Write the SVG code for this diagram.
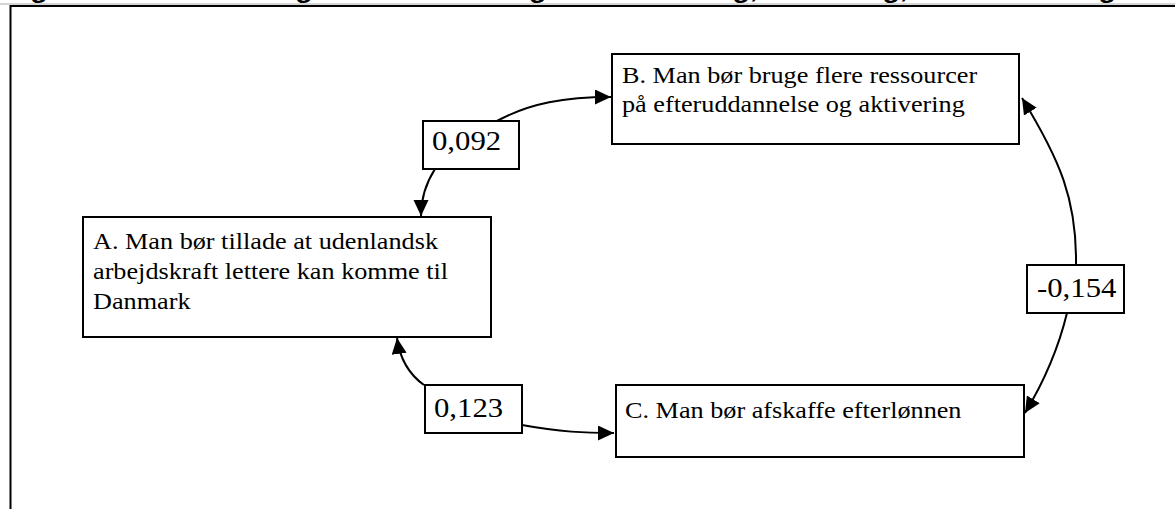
<svg xmlns="http://www.w3.org/2000/svg" width="1175" height="509" viewBox="0 0 1175 509">
<style>
.bg{fill:#ffffff}
.box{fill:#ffffff;stroke:#000;stroke-width:2}
.t{font-family:"Liberation Serif","Times New Roman",serif;font-size:22.6px;fill:#000}
.l{font-family:"Liberation Serif","Times New Roman",serif;font-size:26.5px;fill:#000}
.title{font-family:"Liberation Sans",Arial,sans-serif;font-weight:bold;font-size:24.5px;fill:#000}
.edge{fill:none;stroke:#000;stroke-width:2}
</style>
<defs>
<marker id="arr" markerUnits="userSpaceOnUse" markerWidth="18" markerHeight="16" refX="16" refY="7.5" orient="auto">
<path d="M0,0 L16,7.5 L0,15 Z" fill="#000"/>
</marker>
</defs>
<rect class="bg" x="0" y="0" width="1175" height="509"/>
<g id="title">
<text class="title" transform="translate(5,-2.5) scale(1.16,1)">Figur 3: Sammenhæng mellem holdning til indvandring, aktivering, uddannelse og efterløn</text>
<line x1="0" y1="4" x2="1175" y2="4" stroke="#aaa" stroke-width="1"/>
</g>
<path id="frame" d="M10.5,510 V6 H1176" fill="none" stroke="#000" stroke-width="2"/>
<g id="connectors">
<path class="edge" d="M497,121 C530,103 565,97 611,97" marker-end="url(#arr)"/>
<path class="edge" d="M435,169 C426,183 421,197 421,216" marker-end="url(#arr)"/>
<path class="edge" d="M424,385 C410,375 400,360 397,338" marker-end="url(#arr)"/>
<path class="edge" d="M522,425 C560,432 585,433 614,433" marker-end="url(#arr)"/>
<path class="edge" d="M1076,265 C1077,200 1060,160 1022,98" marker-end="url(#arr)"/>
<path class="edge" d="M1067,313 C1058,350 1045,380 1025,413" marker-end="url(#arr)"/>
</g>
<g id="nodeA">
<rect class="box" x="83" y="217" width="408" height="120"/>
<text class="t" transform="translate(93,249) scale(1.16,1)"><tspan x="0" y="0">A. Man bør tillade at udenlandsk</tspan><tspan x="0" y="30">arbejdskraft lettere kan komme til</tspan><tspan x="0" y="60">Danmark</tspan></text>
</g>
<g id="nodeB">
<rect class="box" x="612" y="54" width="407" height="90"/>
<text class="t" transform="translate(622,83) scale(1.16,1)"><tspan x="0" y="0">B. Man bør bruge flere ressourcer</tspan><tspan x="0" y="29">på efteruddannelse og aktivering</tspan></text>
</g>
<g id="nodeC">
<rect class="box" x="616" y="385" width="408" height="72"/>
<text class="t" transform="translate(625,418) scale(1.16,1)">C. Man bør afskaffe efterlønnen</text>
</g>
<g id="labelAB">
<rect class="box" x="423" y="121" width="96" height="48"/>
<text class="l" transform="translate(432,150) scale(1.16,1)">0,092</text>
</g>
<g id="labelAC">
<rect class="box" x="425" y="385" width="97" height="48"/>
<text class="l" transform="translate(434,417) scale(1.16,1)">0,123</text>
</g>
<g id="labelBC">
<rect class="box" x="1027" y="265" width="97" height="48"/>
<text class="l" transform="translate(1037,297) scale(1.16,1)">-0,154</text>
</g>
</svg>
